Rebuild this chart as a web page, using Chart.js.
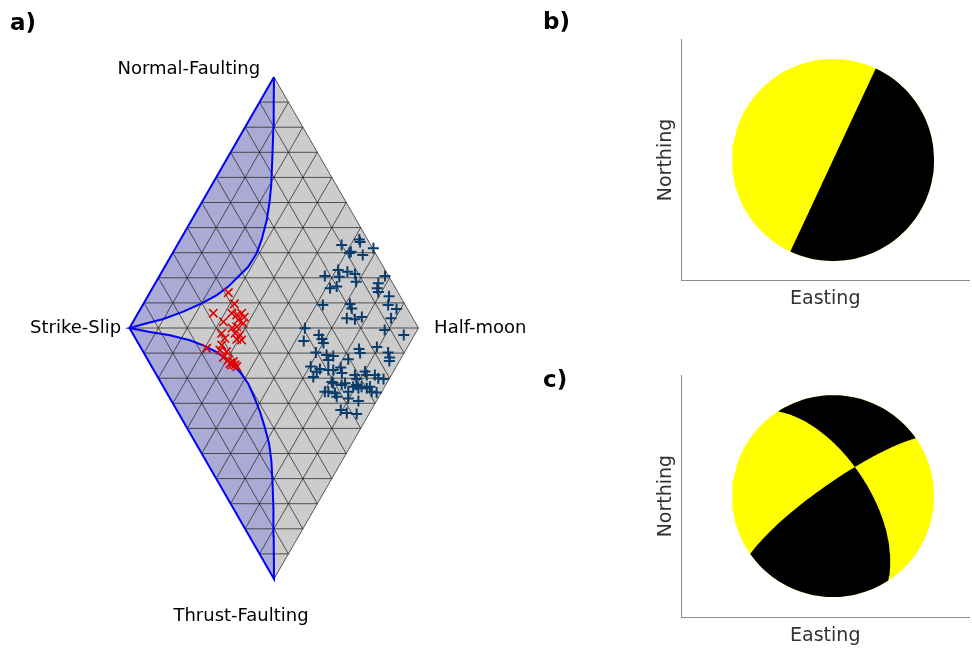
<!DOCTYPE html>
<html>
<head>
<meta charset="utf-8">
<script src="https://cdn.jsdelivr.net/npm/chart.js@4.4.1/dist/chart.umd.min.js"></script>
<style>
  body { margin: 0; background: #fff; width: 972px; height: 648px; position: relative; overflow: hidden; }
  canvas { position: absolute; }
  .tag { position: absolute; font: bold 23px "DejaVu Sans", sans-serif; line-height: 23px; color: #000; }
</style>
</head>
<body>
<canvas id="lune" width="530" height="648" style="left:0;top:0"></canvas>
<canvas id="ballB" width="442" height="324" style="left:530px;top:0"></canvas>
<canvas id="ballC" width="442" height="324" style="left:530px;top:324px"></canvas>
<div class="tag" style="left:10px;top:11px">a)</div>
<div class="tag" style="left:543px;top:10px">b)</div>
<div class="tag" style="left:543px;top:368px">c)</div>
<script>
// lune coordinates: x from -5 (strike-slip) to 5 (half-moon), y from -10 (thrust) to 10 (normal)
const halfWidth = 5
const latticeRows = [-9, -8, -7, -6, -5, -4, -3, -2, -1, 0, 1, 2, 3, 4, 5, 6, 7, 8, 9]
const latticeDiag = [-4, -3, -2, -1, 0, 1, 2, 3, 4]

const cornerNames = ['Normal-Faulting', 'Strike-Slip', 'Half-moon', 'Thrust-Faulting']

// boundary curves of the shaded region
const upperCurve = [[0, 10], [-0.01, 9], [-0.02, 8.02], [-0.06, 6.69], [-0.10, 5.63], [-0.16, 4.97],
  [-0.25, 4.30], [-0.43, 3.51], [-0.60, 2.98], [-0.89, 2.44], [-1.24, 2.04], [-1.58, 1.65],
  [-1.98, 1.31], [-2.50, 0.98], [-3.14, 0.65], [-3.83, 0.36], [-4.40, 0.19], [-5, 0]]
const lowerCurve = [[-5, 0], [-4.29, -0.16], [-3.60, -0.29], [-2.91, -0.49], [-2.45, -0.69],
  [-1.98, -0.96], [-1.52, -1.35], [-1.18, -1.75], [-0.89, -2.22], [-0.66, -2.82], [-0.48, -3.35],
  [-0.32, -3.95], [-0.17, -4.6], [-0.09, -5.3], [-0.05, -6.2], [-0.02, -7.2], [-0.01, -8.3], [0, -10]]

const redEvents = [[-1.58, 1.41], [-1.37, 0.96], [-2.10, 0.59], [-1.75, 0.25], [-1.46, 0.59],
  [-1.29, 0.52], [-1.12, 0.59], [-1.03, 0.43], [-1.24, 0.32], [-1.06, 0.19], [-1.29, 0.05],
  [-1.45, 0.0], [-1.35, -0.21], [-1.18, -0.28], [-1.29, -0.45], [-1.12, -0.48], [-1.81, -0.21],
  [-1.70, -0.41], [-1.81, -0.68], [-1.87, -0.88], [-2.33, -0.81], [-1.64, -0.94], [-1.75, -1.17],
  [-1.58, -1.27], [-1.52, -1.41], [-1.41, -1.34], [-1.35, -1.47], [-1.46, -1.47], [-1.29, -1.54]]

const blueEvents = [[2.95, 3.53], [2.98, 3.43], [2.34, 3.31], [2.66, 3.04], [2.61, 2.99], [3.07, 2.91],
  [3.44, 3.18], [1.76, 2.07], [2.22, 2.31], [2.26, 2.04], [2.54, 2.24], [2.80, 2.15], [2.84, 1.84],
  [1.94, 1.58], [2.17, 1.65], [3.84, 2.07], [3.61, 1.78], [3.57, 1.58], [3.61, 1.43], [3.98, 1.27],
  [1.69, 0.92], [2.63, 0.96], [2.69, 0.78], [2.52, 0.39], [2.80, 0.35], [3.04, 0.44], [3.95, 0.92],
  [4.24, 0.76], [4.05, 0.39], [3.83, -0.08], [4.49, -0.28], [1.07, -0.01], [1.03, -0.52],
  [1.55, -0.28], [1.66, -0.44], [1.71, -0.60], [1.45, -0.98], [1.82, -1.08], [2.05, -1.12],
  [1.88, -1.27], [2.57, -1.24], [2.94, -0.84], [2.98, -1.00], [3.56, -0.76], [3.95, -0.98],
  [4.00, -1.18], [3.99, -1.31], [1.27, -1.53], [1.48, -1.74], [1.59, -1.63], [1.36, -1.95],
  [1.88, -1.67], [2.05, -1.67], [2.31, -1.57], [2.35, -1.79], [2.80, -1.87], [2.86, -2.03],
  [3.15, -1.73], [3.21, -1.87], [3.49, -1.87], [3.61, -2.00], [3.79, -2.03], [2.00, -2.15],
  [2.34, -2.27], [2.46, -2.20], [2.86, -2.27], [2.92, -2.40], [3.03, -2.34], [3.21, -2.40],
  [3.32, -2.34], [3.38, -2.54], [1.76, -2.54], [1.88, -2.54], [2.11, -2.60], [2.17, -2.74],
  [2.57, -2.54], [2.57, -2.81], [2.92, -2.91], [3.55, -2.57], [2.31, -3.27], [2.52, -3.39],
  [2.86, -3.43], [2.05, -2.20], [2.74, -2.34]]

// focal mechanisms: [strike, dip] of nodal planes (deg)
const planeB = [25, 90]
const planesC = [[327, 62], [235, 80]]

Chart.defaults.font.family = '"DejaVu Sans", sans-serif'

const pt = (p) => ({x: p[0], y: p[1]})

// triangular lattice inside the diamond
let gridPts = []
latticeRows.forEach(k => {
  const w = halfWidth - Math.abs(k) / 2
  gridPts.push({x: -w, y: k}, {x: w, y: k}, {x: 0, y: null})
})
latticeDiag.forEach(c => {
  gridPts.push({x: (c - halfWidth) / 2, y: -halfWidth - c}, {x: (c + halfWidth) / 2, y: halfWidth - c}, {x: 0, y: null})
  gridPts.push({x: (c + halfWidth) / 2, y: c - halfWidth}, {x: (c - halfWidth) / 2, y: c + halfWidth}, {x: 0, y: null})
})

const diamond = [[0, 2 * halfWidth], [halfWidth, 0], [0, -2 * halfWidth], [-halfWidth, 0], [0, 2 * halfWidth]].map(pt)
const shaded = [[0, 2 * halfWidth], [-halfWidth, 0], [0, -2 * halfWidth]]
  .concat(lowerCurve.slice().reverse().slice(1))
  .concat(upperCurve.slice().reverse().slice(1))
  .map(pt)

const labelAnchors = [
  {x: -0.48, y: 10.12, align: 'right', base: 'alphabetic'},
  {x: -5.29, y: 0, align: 'right', base: 'middle'},
  {x: 5.54, y: 0, align: 'left', base: 'middle'},
  {x: -1.14, y: -11.5, align: 'center', base: 'middle'}
]

const luneLabels = {
  id: 'luneLabels',
  afterDatasetsDraw(chart) {
    const {ctx, scales: {x, y}} = chart
    ctx.save()
    ctx.fillStyle = '#000'
    ctx.font = '18px "DejaVu Sans", sans-serif'
    cornerNames.forEach((name, i) => {
      const a = labelAnchors[i]
      ctx.textAlign = a.align
      ctx.textBaseline = a.base
      ctx.fillText(name, x.getPixelForValue(a.x), y.getPixelForValue(a.y))
    })
    ctx.restore()
  }
}

const gridColor = 'rgba(30,30,30,0.8)'

new Chart(document.getElementById('lune'), {
  type: 'line',
  data: {
    datasets: [
      {data: redEvents.map(pt), showLine: false, pointStyle: 'crossRot', pointRadius: 6,
        pointBorderColor: '#e00000', pointBorderWidth: 1.6, order: 0},
      {data: blueEvents.map(pt), showLine: false, pointStyle: 'cross', pointRadius: 5.5,
        pointBorderColor: '#0b3d6c', pointBorderWidth: 2, order: 0},
      {data: shaded, fill: false, borderColor: '#0000ff', borderWidth: 2, pointRadius: 0, order: 1},
      {data: gridPts, fill: false, borderColor: gridColor, borderWidth: 0.9, pointRadius: 0, order: 2},
      {data: shaded, fill: 'shape', backgroundColor: 'rgb(170,170,212)', borderColor: 'rgba(0,0,0,0)',
        borderWidth: 0, pointRadius: 0, order: 3},
      {data: diamond, fill: 'shape', backgroundColor: '#cccccc', borderColor: gridColor,
        borderWidth: 0.9, pointRadius: 0, order: 4}
    ]
  },
  options: {
    responsive: false,
    animation: false,
    events: [],
    layout: {padding: 0, autoPadding: false},
    plugins: {legend: {display: false}, tooltip: {enabled: false}},
    scales: {
      x: {type: 'linear', display: false, min: -9.481, max: 8.858},
      y: {type: 'linear', display: false, min: -12.749, max: 13.068}
    }
  },
  plugins: [luneLabels]
})

// ---- beachballs (lower hemisphere, equal area) ----
const D2R = Math.PI / 180
function cross(a, b) { return [a[1]*b[2] - a[2]*b[1], a[2]*b[0] - a[0]*b[2], a[0]*b[1] - a[1]*b[0]] }
function dot(a, b) { return a[0]*b[0] + a[1]*b[1] + a[2]*b[2] }
function planeBasis(plane) {
  const s = plane[0] * D2R, dd = (plane[0] + 90) * D2R, d = plane[1] * D2R
  return {
    s: [Math.cos(s), Math.sin(s), 0],
    d: [Math.cos(dd) * Math.cos(d), Math.sin(dd) * Math.cos(d), Math.sin(d)]
  }
}
function project(v) {
  const len = Math.hypot(v[0], v[1], v[2])
  let n = v[0] / len, e = v[1] / len, down = v[2] / len
  if (down < 0) { n = -n; e = -e; down = -down }
  const h = Math.hypot(n, e)
  if (h < 1e-9) return {x: 0, y: 0}
  const r = Math.sqrt(Math.max(0, 1 - down))
  return {x: r * e / h, y: r * n / h}
}
function trace(plane, t0, t1) {
  const b = planeBasis(plane)
  let pts = []
  for (let i = 0; i <= 60; i++) {
    const t = (t0 + (t1 - t0) * i / 60) * D2R
    pts.push(project([0, 1, 2].map(k => Math.cos(t) * b.s[k] + Math.sin(t) * b.d[k])))
  }
  return pts
}
function rim(az0, az1) {
  let pts = []
  const n = Math.max(2, Math.ceil(Math.abs(az1 - az0) / 2))
  for (let i = 0; i <= n; i++) {
    const a = (az0 + (az1 - az0) * i / n) * D2R
    pts.push({x: Math.sin(a), y: Math.cos(a)})
  }
  return pts
}
function nullAxisT(p1, p2) {
  const b1 = planeBasis(p1), b2 = planeBasis(p2)
  let B = cross(cross(b1.s, b1.d), cross(b2.s, b2.d))
  if (B[2] < 0) B = B.map(v => -v)
  return [Math.atan2(dot(B, b1.d), dot(B, b1.s)) / D2R, Math.atan2(dot(B, b2.d), dot(B, b2.s)) / D2R]
}

function ballChart(id, regions, yRange, pad) {
  const sets = [{data: rim(0, 360), fill: 'shape', backgroundColor: '#ffff00', borderColor: 'rgba(0,0,0,0)',
    borderWidth: 0, pointRadius: 0, order: 2}]
  regions.forEach(r => sets.push({data: r, fill: 'shape', backgroundColor: '#000000',
    borderColor: 'rgba(0,0,0,0)', borderWidth: 0, pointRadius: 0, order: 1}))
  new Chart(document.getElementById(id), {
    type: 'line',
    data: {datasets: sets},
    options: {
      responsive: false,
      animation: false,
      events: [],
      layout: {padding: pad, autoPadding: false},
      plugins: {legend: {display: false}, tooltip: {enabled: false}},
      scales: {
        x: {type: 'linear', min: -1.505, max: 1.351, ticks: {display: false},
          grid: {display: false, drawTicks: false}, border: {display: true, color: '#8c8c8c', width: 1},
          title: {display: true, text: 'Easting', color: '#333', font: {size: 19}, padding: {top: 7, bottom: 1}}},
        y: {type: 'linear', min: -yRange, max: yRange, ticks: {display: false},
          grid: {display: false, drawTicks: false}, border: {display: true, color: '#8c8c8c', width: 1},
          title: {display: true, text: 'Northing', color: '#333', font: {size: 19}, padding: {top: 4, bottom: 4}}}
      }
    }
  })
}

const regionB = [rim(planeB[0], planeB[0] + 180).concat(trace(planeB, 180, 0))]
const [tb1, tb2] = nullAxisT(planesC[0], planesC[1])
const regionsC = [
  rim(planesC[0][0], planesC[1][0] + 180).concat(trace(planesC[1], 180, tb2), trace(planesC[0], tb1, 0)),
  rim(planesC[0][0] - 180, planesC[1][0]).concat(trace(planesC[1], 0, tb2), trace(planesC[0], tb1, 180))
]

ballChart('ballB', regionB, 1.195, {left: 120.2, top: 39.3, right: 2.5, bottom: 12.5})
ballChart('ballC', regionsC, 1.2, {left: 120.2, top: 51, right: 2.5, bottom: 0})
</script>
</body>
</html>
